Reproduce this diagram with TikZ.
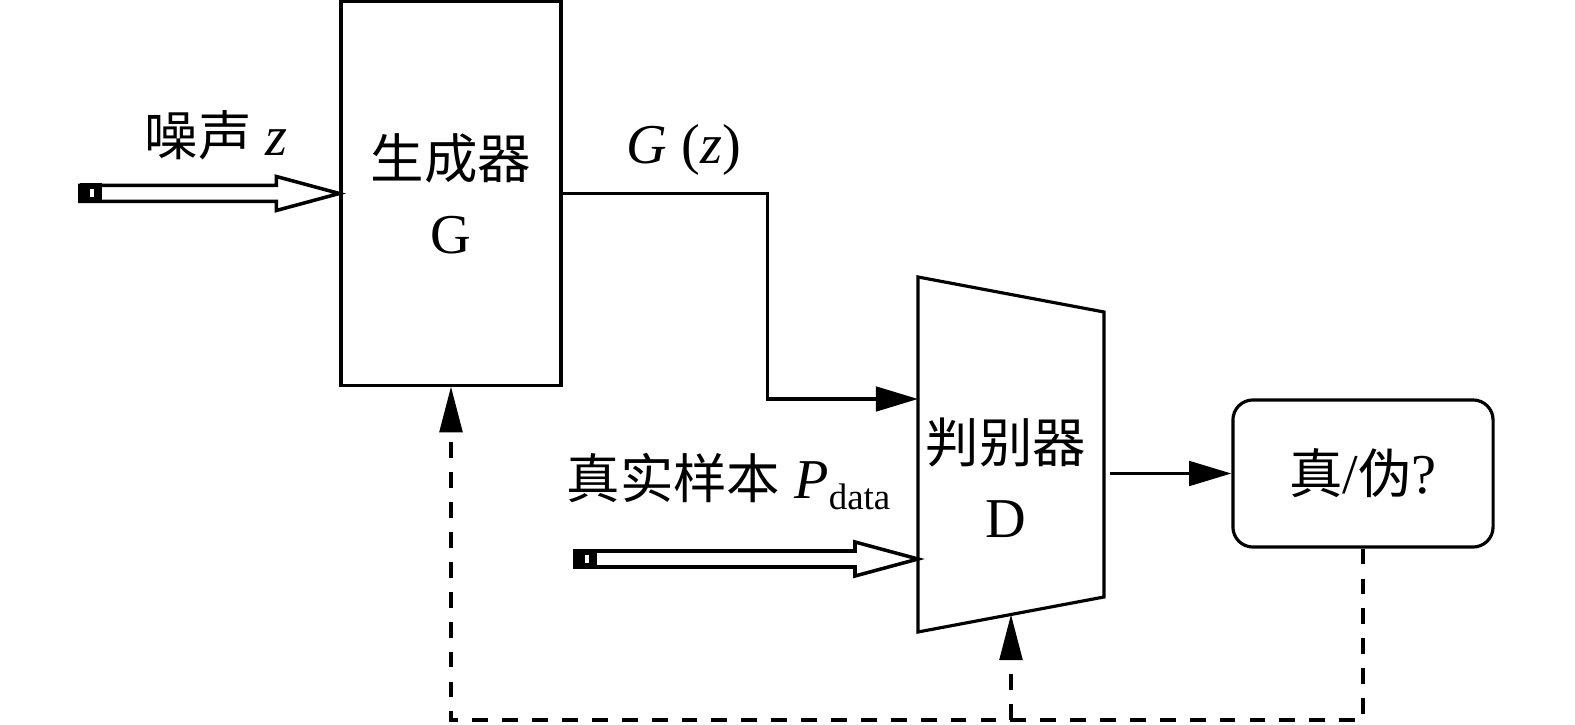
\documentclass[tikz,border=0pt]{standalone}
\usepackage{fontspec}
\setmainfont{Liberation Serif}
\newfontfamily\cjk[Scale=0.95]{Noto Sans CJK SC}
\usetikzlibrary{arrows.meta,calc}

% hollow input arrow with a black tail block
\newcommand{\hollowarrow}[2]{%
  \draw[line width=1pt,fill=white] ($(#1)+(0,-8)$) -- ($(#2)+(-63,-8)$) -- ($(#2)+(-63,-17)$) -- (#2)
    -- ($(#2)+(-63,17)$) -- ($(#2)+(-63,8)$) -- ($(#1)+(0,8)$) -- cycle;
  \fill ($(#1)+(0,-10)$) rectangle ($(#1)+(22,10)$);
  \fill[white] ($(#1)+(10,-4)$) rectangle ($(#1)+(14,4)$);
}
\newcommand{\subdata}{\raisebox{-3pt}{\fontsize{10.5}{12}\selectfont data}}

\begin{document}
\begin{tikzpicture}[x=0.01cm,y=-0.01cm,line width=0.9pt,
    font=\fontsize{16}{21.3}\selectfont,
    flow/.style={-{Triangle[length=12pt,width=7pt]}},
    fb/.style={dash pattern=on 4.5pt off 4pt,-{Triangle[length=13pt,width=6.5pt]}},
    genbox/.style={draw,minimum width=2.2cm,minimum height=3.83cm,align=center,inner sep=0pt},
    resbox/.style={draw,rounded corners=0.2cm,minimum width=2.6cm,minimum height=1.47cm}]
    \useasboundingbox (0,0) rectangle (1575,725);

    % generator
    \node[genbox] (gen) at (451,193.5) {{\cjk 生成器}\\G};
    \node (noise) at (216,135) {{\cjk 噪声} \textit{z}};
    \node (gz) at (684,150) {\textit{G} (\textit{z})};

    % discriminator
    \coordinate (dtl) at (918,277);
    \coordinate (dtr) at (1104,312);
    \coordinate (dbr) at (1104,597);
    \coordinate (dbl) at (918,632);
    \draw (dtl) -- (dtr) -- (dbr) -- (dbl) -- cycle;
    \node[align=center] (disc) at (1006,478) {{\cjk 判别器}\\D};
    \node[anchor=base west,inner sep=0pt] (pdata) at (565,499) {{\cjk 真实样本} \textit{P}\subdata};

    % result
    \node[resbox] (res) at (1363,473.5) {{\cjk 真}/{\cjk 伪}?};

    % inputs
    \coordinate (noisein) at (80,193.5);
    \coordinate (noiseend) at (gen.west |- noisein);
    \hollowarrow{noisein}{noiseend}
    \coordinate (datain) at (575,559);
    \coordinate (dataend) at (dtl |- datain);
    \hollowarrow{datain}{dataend}

    % forward path
    \coordinate (gzin) at (918,399);
    \draw[flow] (gen.east) -- ++(205,0) |- (gzin);
    \coordinate (dout) at (1110,473.5);
    \draw[flow] (dout) -- (res.west);

    % feedback
    \coordinate (fbl) at (451,720);
    \draw[fb] (res.south) |- (fbl) -- (gen.south);
    \coordinate (fbd) at (1011,720);
    \coordinate (dbot) at ($(dbl)!0.5!(dbr)$);
    \draw[fb] (fbd) -- (dbot);
\end{tikzpicture}
\end{document}
